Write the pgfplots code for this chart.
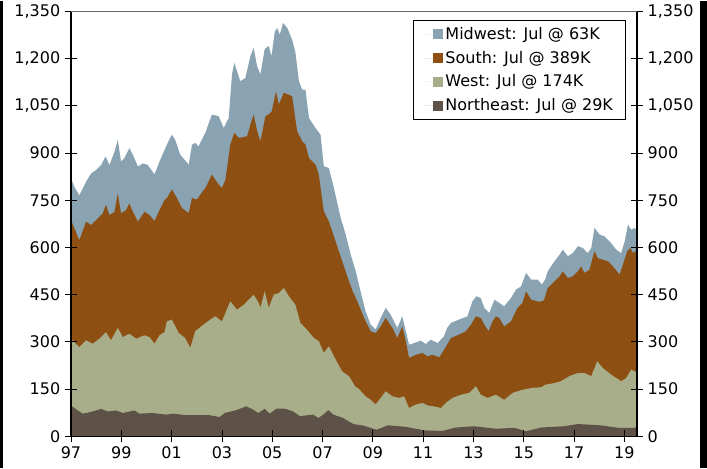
\documentclass[border=0pt]{standalone}
\usepackage{fontspec}
\setmainfont{DejaVu Sans}
\usepackage{pgfplots}
\pgfplotsset{compat=1.18}
\usepackage{pgfplotstable}
\definecolor{mwc}{RGB}{138,163,178}
\definecolor{soc}{RGB}{141,80,18}
\definecolor{wec}{RGB}{169,174,138}
\definecolor{nec}{RGB}{94,82,72}

% cumulative boundaries (thousands of starts, SAAR): top of each stacked band
\pgfplotstableread{
x y
1997.00 820
1997.15 790
1997.33 766
1997.60 809
1997.80 835
1998.00 846
1998.20 862
1998.37 889
1998.53 862
1998.73 904
1998.86 942
1998.99 873
1999.12 883
1999.32 915
1999.46 894
1999.66 857
1999.86 867
2000.05 862
2000.32 832
2000.52 873
2000.72 910
2000.81 926
2001.01 958
2001.14 942
2001.34 895
2001.68 863
2001.81 926
2001.94 932
2002.07 921
2002.34 964
2002.60 1022
2002.87 1017
2003.07 979
2003.20 1001
2003.27 1010
2003.40 1150
2003.49 1186
2003.73 1128
2003.93 1138
2004.13 1207
2004.26 1234
2004.40 1175
2004.53 1150
2004.70 1230
2004.86 1240
2004.97 1207
2005.10 1285
2005.20 1297
2005.30 1276
2005.43 1313
2005.60 1297
2005.79 1260
2005.92 1220
2006.06 1128
2006.19 1101
2006.32 1101
2006.46 1011
2006.72 979
2006.92 958
2007.05 858
2007.25 852
2007.45 789
2007.72 694
2007.92 641
2008.12 577
2008.32 524
2008.51 461
2008.71 397
2008.91 355
2009.11 339
2009.31 376
2009.51 408
2009.71 386
2009.97 344
2010.17 381
2010.31 334
2010.44 291
2010.64 296
2010.90 304
2011.10 293
2011.30 307
2011.57 296
2011.83 318
2011.95 344
2012.10 360
2012.43 371
2012.76 381
2012.96 429
2013.12 445
2013.29 439
2013.43 408
2013.63 392
2013.83 434
2014.02 424
2014.22 413
2014.49 439
2014.69 466
2014.89 476
2015.09 519
2015.29 498
2015.55 498
2015.72 482
2015.86 500
2015.95 524
2016.22 556
2016.42 577
2016.55 593
2016.75 572
2016.95 582
2017.15 604
2017.35 598
2017.54 582
2017.68 598
2017.81 662
2018.01 641
2018.21 635
2018.47 614
2018.67 593
2018.87 582
2019.01 619
2019.14 672
2019.27 656
2019.40 662
2019.50 655
}\totdata

\pgfplotstableread{
x y
1997.00 687
1997.33 623
1997.60 682
1997.80 671
1998.00 687
1998.26 708
1998.39 735
1998.53 703
1998.73 713
1998.86 772
1998.99 708
1999.19 719
1999.32 740
1999.46 713
1999.66 682
1999.92 713
2000.12 703
2000.32 684
2000.52 719
2000.72 751
2000.81 757
2001.01 784
2001.21 757
2001.41 725
2001.68 709
2001.81 757
2002.01 752
2002.14 768
2002.34 789
2002.60 831
2002.87 800
2003.00 789
2003.14 815
2003.33 926
2003.49 964
2003.67 948
2004.00 953
2004.13 990
2004.26 1022
2004.40 970
2004.53 937
2004.73 1017
2004.85 1022
2004.98 1032
2005.15 1096
2005.26 1054
2005.46 1091
2005.66 1085
2005.79 1080
2005.99 969
2006.19 937
2006.32 927
2006.46 884
2006.72 863
2006.85 831
2007.05 715
2007.25 683
2007.52 619
2007.78 556
2008.05 493
2008.20 460
2008.38 429
2008.65 376
2008.91 334
2009.11 328
2009.31 349
2009.51 376
2009.78 344
2009.97 312
2010.17 349
2010.31 302
2010.44 249
2010.71 259
2010.97 265
2011.17 254
2011.37 259
2011.64 251
2011.90 284
2012.10 312
2012.43 323
2012.70 334
2012.90 355
2013.10 381
2013.29 376
2013.43 355
2013.60 334
2013.76 365
2013.89 381
2014.02 376
2014.22 349
2014.49 365
2014.75 408
2014.95 424
2015.09 461
2015.29 434
2015.62 427
2015.80 432
2015.95 471
2016.22 492
2016.42 508
2016.55 524
2016.75 503
2016.95 508
2017.15 524
2017.28 540
2017.41 519
2017.61 529
2017.81 588
2017.94 566
2018.14 561
2018.34 556
2018.54 540
2018.81 514
2018.94 545
2019.11 588
2019.24 598
2019.34 582
2019.50 592
}\soudata

\pgfplotstableread{
x y
1997.00 310
1997.33 283
1997.60 305
1997.86 294
1998.13 310
1998.39 331
1998.59 305
1998.86 344
1999.06 315
1999.32 326
1999.59 310
1999.92 321
2000.12 315
2000.32 294
2000.52 321
2000.72 331
2000.81 365
2001.01 371
2001.28 328
2001.54 312
2001.74 281
2001.94 334
2002.27 355
2002.54 371
2002.74 381
2003.00 365
2003.33 429
2003.60 402
2003.87 418
2004.26 450
2004.46 424
2004.53 408
2004.70 461
2004.86 408
2005.06 450
2005.26 455
2005.46 471
2005.66 445
2005.92 418
2006.12 360
2006.32 344
2006.66 312
2006.85 302
2007.05 265
2007.25 286
2007.52 244
2007.78 206
2008.05 191
2008.29 159
2008.45 150
2008.71 127
2008.91 116
2009.11 101
2009.31 122
2009.51 143
2009.78 127
2010.04 122
2010.24 127
2010.44 90
2010.71 101
2010.97 106
2011.17 98
2011.44 95
2011.70 90
2011.90 106
2012.17 122
2012.50 132
2012.83 138
2013.10 159
2013.29 132
2013.56 122
2013.89 132
2014.22 116
2014.56 138
2014.95 148
2015.35 154
2015.70 156
2015.86 164
2016.22 169
2016.48 175
2016.81 191
2017.15 201
2017.41 201
2017.68 191
2017.92 238
2018.14 217
2018.47 196
2018.87 175
2019.07 185
2019.27 212
2019.50 203
}\wesdata

\pgfplotstableread{
x y
1997.00 97
1997.46 72
1997.73 76
1998.20 87
1998.46 79
1998.80 82
1999.06 74
1999.52 82
1999.72 72
2000.25 74
2000.78 69
2001.05 72
2001.58 67
2002.11 67
2002.51 67
2002.91 61
2003.11 74
2003.57 83
2003.97 95
2004.24 85
2004.44 74
2004.70 87
2004.90 72
2005.17 88
2005.50 88
2005.83 79
2006.10 64
2006.63 69
2006.83 58
2007.03 69
2007.23 83
2007.43 69
2007.82 58
2008.22 39
2008.62 34
2009.15 21
2009.60 35
2010.32 30
2011.04 19
2011.76 17
2012.30 28
2013.01 32
2013.91 24
2014.63 27
2015.08 16
2015.71 28
2016.60 32
2017.14 39
2018.04 35
2018.76 27
2019.39 27
2019.50 29
}\nedata

\pgfplotsset{
  base/.style={
    scale only axis, width=424.5pt, height=318.75pt,
    xmin=1997, xmax=2019.5, ymin=0, ymax=1350,
    ytick={0,150,...,1350},
    tick align=center, major tick length=9pt,
    tick style={black, line width=0.6pt},
    axis line style={black, line width=0.8pt},
    /pgf/number format/assume math mode=true,
    /pgf/number format/1000 sep={,},
    tick label style={font=\fontsize{12}{14}\selectfont, text=black},
  }
}

\begin{document}
\begin{tikzpicture}
\begin{axis}[base, name=ax,
  axis on top,
  xtick={1997,1999,...,2019},
  xticklabels={97,99,01,03,05,07,09,11,13,15,17,19},
  xtick pos=bottom, ytick pos=left,
  legend style={at={(rel axis cs:0.9806,0.979)}, anchor=north east,
    draw=black, line width=0.6pt, fill=white,
    font=\fontsize{12}{14}\selectfont,
    row sep=4.2pt, inner xsep=8pt, inner ysep=3.5pt,
    nodes={inner sep=1.5pt}},
  legend cell align=left,
  legend image code/.code={\path (-6.75pt,0) -- (0pt,0);\fill[#1] (0pt,-3.75pt) rectangle (7.5pt,3.75pt);},
]
\addplot[fill=mwc, draw=none] table[x=x,y=y]{\totdata} \closedcycle;
\addlegendentry{Midwest: Jul @ 63K}
\addplot[fill=soc, draw=none] table[x=x,y=y]{\soudata} \closedcycle;
\addlegendentry{South: Jul @ 389K}
\addplot[fill=wec, draw=none] table[x=x,y=y]{\wesdata} \closedcycle;
\addlegendentry{West: Jul @ 174K}
\addplot[fill=nec, draw=none] table[x=x,y=y]{\nedata} \closedcycle;
\addlegendentry{Northeast: Jul @ 29K}
\end{axis}
\begin{axis}[base,
  hide x axis,
  axis y line*=right,
  ytick pos=right, yticklabel pos=right,
]
\end{axis}
\draw[gray!80!black, line width=0.8pt] (ax.north west) -- (ax.north east);
\path ([shift={(-53.25pt,-24pt)}]ax.south west) rectangle ([shift={(52.5pt,7.5pt)}]ax.north east);
\fill[black] ([shift={(-53.25pt,-24pt)}]ax.south west) rectangle ([shift={(-51.25pt,7.5pt)}]ax.north west);
\fill[black] ([shift={(47.25pt,-24pt)}]ax.south east) rectangle ([shift={(52.5pt,7.5pt)}]ax.north east);
\end{tikzpicture}
\end{document}
